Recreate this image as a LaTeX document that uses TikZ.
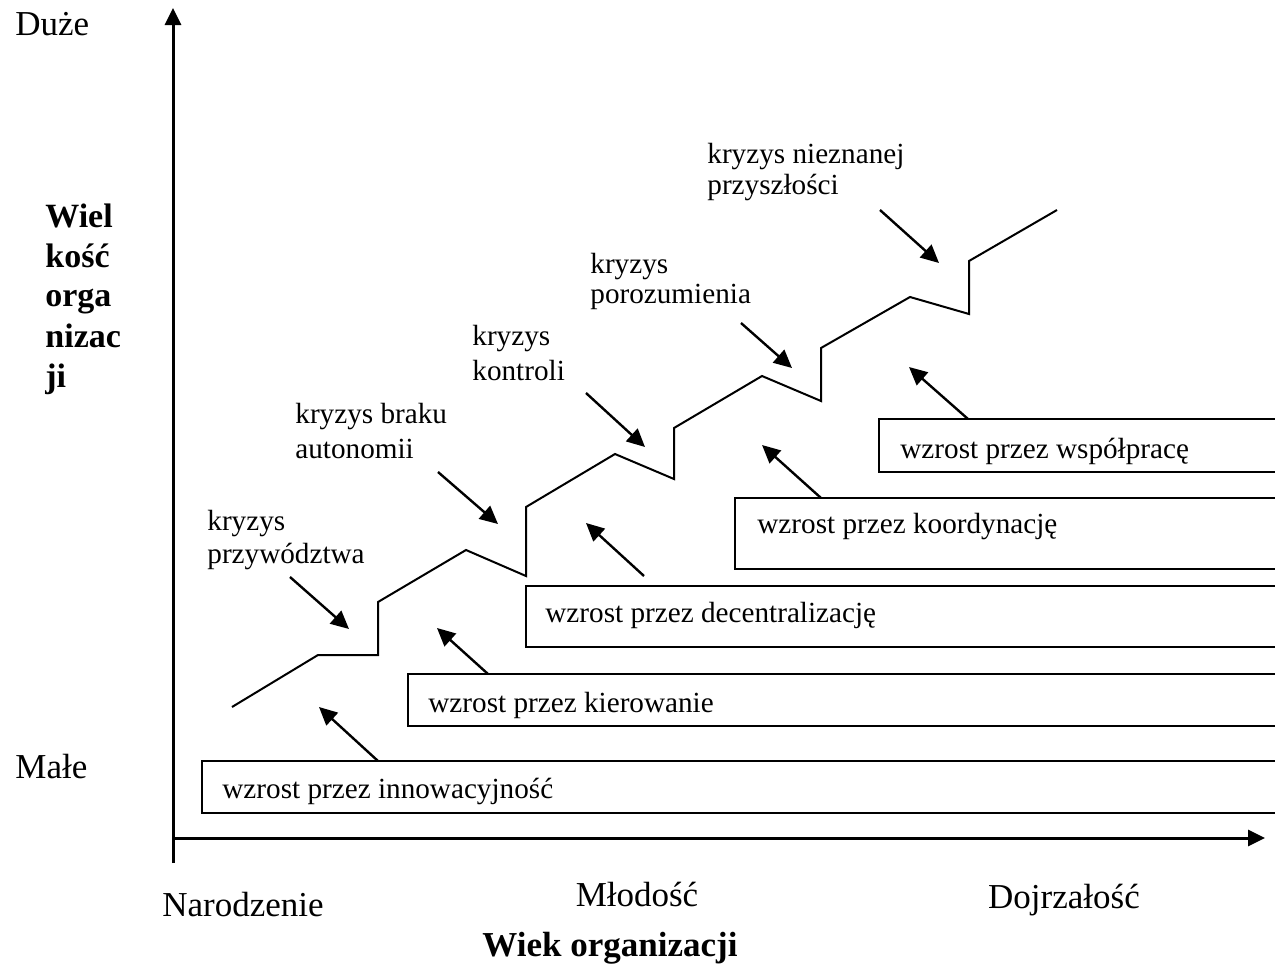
\documentclass[tikz,border=0pt]{standalone}
\usepackage{fontspec}
\setmainfont{Liberation Serif}
\usetikzlibrary{arrows.meta}
\begin{document}
\begin{tikzpicture}[x=0.5pt,y=-0.5pt,
  lbl/.style={anchor=base west, inner sep=0pt, font=\fontsize{14.6}{17}\selectfont},
  axlbl/.style={anchor=base west, inner sep=0pt, font=\fontsize{17.5}{20}\selectfont},
  ylbl/.style={anchor=base west, inner sep=0pt, font=\fontsize{17}{20}\selectfont\bfseries},
  xlbl/.style={anchor=base, inner sep=0pt, font=\fontsize{17.5}{20}\selectfont},
  axisline/.style={line width=1.5pt, -{Triangle[length=8.5pt,width=8pt]}},
  growbox/.style={draw, line width=1.1pt},
  arr/.style={line width=1.2pt, -{Triangle[length=9pt,width=8.5pt]}},
  stairs/.style={line width=1pt, line join=miter}]
\useasboundingbox (0,0) rectangle (1275,964);
\clip (0,0) rectangle (1275,964);

% axes
\coordinate (ybot) at (173,863);
\coordinate (ytop) at (173,8);
\coordinate (xl) at (173,838);
\coordinate (xr) at (1265,838);
\draw[axisline] (ybot) -- (ytop);
\draw[axisline] (xl) -- (xr);

% axis labels
\node[axlbl] (duze) at (15,35) {Duże};
\node[axlbl] (male) at (15,778) {Małe};
\node[ylbl] (w1) at (45,227) {Wiel};
\node[ylbl] (w2) at (45,267) {kość};
\node[ylbl] (w3) at (45,306) {orga};
\node[ylbl] (w4) at (45,347) {nizac};
\node[ylbl] (w5) at (45,387) {ji};
\node[xlbl] (narodz) at (243,916) {Narodzenie};
\node[xlbl] (mlod) at (637,906) {Młodość};
\node[xlbl] (dojrz) at (1064,908) {Dojrzałość};
\node[xlbl, font=\fontsize{17.5}{20}\selectfont\bfseries] (wiek) at (610,956) {Wiek organizacji};

% growth boxes
\draw[growbox] (202,761) rectangle (1300,813);
\draw[growbox] (408,674) rectangle (1300,726);
\draw[growbox] (526,586) rectangle (1300,647);
\draw[growbox] (735,498) rectangle (1300,569);
\draw[growbox] (879,419) rectangle (1300,472);
\node[lbl] (g1) at (222,798) {wzrost przez innowacyjność};
\node[lbl] (g2) at (428,712) {wzrost przez kierowanie};
\node[lbl] (g3) at (545,622) {wzrost przez decentralizację};
\node[lbl] (g4) at (757,533) {wzrost przez koordynację};
\node[lbl] (g5) at (900,458) {wzrost przez współpracę};

% growth curve
\draw[stairs] (232,707) -- (318,655) -- (378,655) -- (378,602) -- (466,550)
  -- (526,576) -- (526,507) -- (615,454) -- (674,479) -- (674,428)
  -- (762,376) -- (821,401) -- (821,348) -- (910,297) -- (969,314)
  -- (969,261) -- (1057,210);

% crisis labels
\node[lbl] (c1a) at (207,530) {kryzys};
\node[lbl] (c1b) at (207,563) {przywództwa};
\node[lbl] (c2a) at (295,423) {kryzys braku};
\node[lbl] (c2b) at (295,458) {autonomii};
\node[lbl] (c3a) at (472,345) {kryzys};
\node[lbl] (c3b) at (472,380) {kontroli};
\node[lbl] (c4a) at (590,273) {kryzys};
\node[lbl] (c4b) at (590,303) {porozumienia};
\node[lbl] (c5a) at (707,163) {kryzys nieznanej};
\node[lbl] (c5b) at (707,194) {przyszłości};

% crisis arrows
\coordinate (cs1) at (290,577); \coordinate (ce1) at (349,629);
\coordinate (cs2) at (438,472); \coordinate (ce2) at (498,524);
\coordinate (cs3) at (586,393); \coordinate (ce3) at (645,447);
\coordinate (cs4) at (741,323); \coordinate (ce4) at (792,368);
\coordinate (cs5) at (880,210); \coordinate (ce5) at (939,263);
\foreach \i in {1,...,5} \draw[arr] (cs\i) -- (ce\i);

% growth arrows
\coordinate (gs1) at (378,761); \coordinate (ge1) at (319,707);
\coordinate (gs2) at (488,674); \coordinate (ge2) at (437,628);
\coordinate (gs3) at (644,576); \coordinate (ge3) at (586,523);
\coordinate (gs4) at (821,498); \coordinate (ge4) at (762,445);
\coordinate (gs5) at (968,419); \coordinate (ge5) at (909,367);
\foreach \i in {1,...,5} \draw[arr] (gs\i) -- (ge\i);
\end{tikzpicture}
\end{document}
